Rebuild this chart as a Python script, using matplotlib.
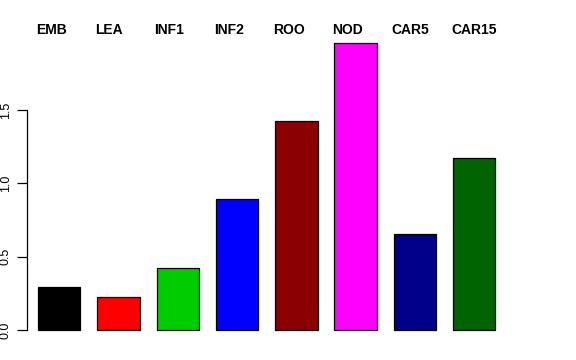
import matplotlib
matplotlib.use('Agg')
import matplotlib.pyplot as plt
import matplotlib.transforms as mtransforms

plt.rcParams['font.family'] = ['Liberation Sans', 'DejaVu Sans']

samples = ['EMB', 'LEA', 'INF1', 'INF2', 'ROO', 'NOD', 'CAR5', 'CAR15']
values = [0.293, 0.225, 0.423, 0.893, 1.425, 1.956, 0.654, 1.172]
colors = ['black', 'red', '#00CD00', 'blue', '#8B0000', 'magenta', '#00008B', '#006400']
yticks = [0.0, 0.5, 1.0, 1.5]

# R-style barplot geometry: width 1, space 0.4
space = 0.4
lefts = [space + i * (1 + space) for i in range(len(values))]
centers = [l + 0.5 for l in lefts]

fig = plt.figure(figsize=(5.76, 3.6), dpi=100)
W, H = 576, 360
ax_l, ax_r, ax_b, ax_t = 10, 540, 335, 40
ax = fig.add_axes([ax_l / W, 1 - ax_b / H, (ax_r - ax_l) / W, (ax_b - ax_t) / H])

px_x = 42.36
x0 = 21
ax.set_xlim((ax_l - x0) / px_x, (ax_r - x0) / px_x)
px_y = 146.7
y0 = 330
ax.set_ylim((y0 - ax_b) / px_y, (y0 - ax_t) / px_y)

ax.bar(centers, values, width=1.0, color=colors, edgecolor='black', linewidth=0.9)

for sp in ['top', 'right', 'bottom']:
    ax.spines[sp].set_visible(False)
ax.spines['left'].set_position(('data', (27 - x0) / px_x))
ax.spines['left'].set_bounds(0, 1.5)
ax.spines['left'].set_linewidth(0.9)
ax.set_xticks([])
ax.set_yticks(yticks)
ax.set_yticklabels([f'{v:.1f}' for v in yticks], rotation=90, va='center', fontsize=9)
ax.tick_params(axis='y', length=7, width=0.9, pad=4)

trans = mtransforms.blended_transform_factory(ax.transData, fig.transFigure)
for l, name in zip(lefts, samples):
    ax.text(l - 0.05, 1 - 30 / H, name, transform=trans, ha='left', va='center',
            fontsize=10, fontweight='bold', clip_on=False)

fig.savefig('out.png', dpi=100)
